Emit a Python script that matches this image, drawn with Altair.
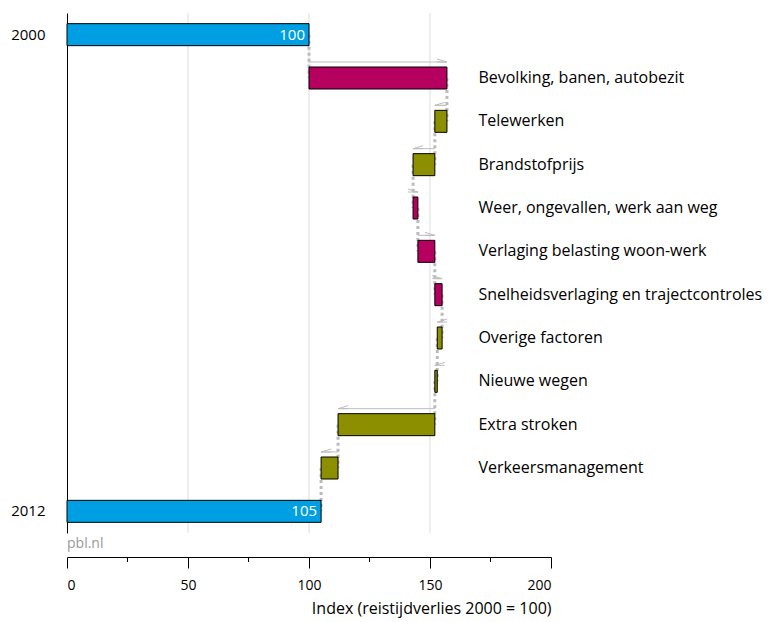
import altair as alt
import pandas as pd

categories = ["2000", "Bevolking, banen, autobezit", "Telewerken", "Brandstofprijs",
              "Weer, ongevallen, werk aan weg", "Verlaging belasting woon-werk",
              "Snelheidsverlaging en trajectcontroles", "Overige factoren", "Nieuwe wegen",
              "Extra stroken", "Verkeersmanagement", "2012"]
start_vals = [0, 100, 157, 152, 143, 145, 152, 155, 153, 152, 112, 0]
end_vals = [100, 157, 152, 143, 145, 152, 155, 153, 152, 112, 105, 105]
kinds = ["total", "up", "down", "down", "up", "up", "up", "down", "down", "down", "down", "total"]
grid_vals = [50, 100, 150]
major_ticks = [0, 50, 100, 150, 200]
minor_ticks = [25, 75, 125, 175]
label_pos = 170
source_text = "pbl.nl"
x_title = "Index (reistijdverlies 2000 = 100)"

W, H = 484, 520
OFF = 24
FONT = "Open Sans"

df = pd.DataFrame({"cat": categories, "start": start_vals, "end": end_vals, "kind": kinds})
df["lo"] = df[["start", "end"]].min(axis=1)
df["hi"] = df[["start", "end"]].max(axis=1)
df["label"] = [str(e) if k == "total" else "" for e, k in zip(end_vals, kinds)]
df["lx"] = label_pos

conn = pd.DataFrame({"from": categories[:-1], "to": categories[1:], "x": end_vals[:-1]})

x_axis = alt.Axis(values=major_ticks, offset=OFF, grid=False, tickSize=11, tickColor="black",
                  domainColor="black", labelFontSize=14, labelPadding=10, labelColor="black",
                  titleFontSize=16, titleFontWeight="normal", titleAnchor="end", titleColor="black",
                  titlePadding=8, labelFont=FONT, titleFont=FONT)
y_axis = alt.Axis(ticks=False, domainColor="black", labelFontSize=15, labelPadding=22,
                  labelColor="black", labelFont=FONT, grid=False,
                  labelExpr="datum.value == '2000' || datum.value == '2012' ? datum.value : ''")
xs = alt.Scale(domain=[0, 200], nice=False)
ys = alt.Scale(domain=categories)


def X(f):
    return alt.X(f, type="quantitative", scale=xs, axis=x_axis, title=x_title)


def Y(f="cat"):
    return alt.Y(f, type="nominal", scale=ys, sort=None, axis=y_axis, title=None)


color = alt.Color("kind:N", scale=alt.Scale(domain=["total", "up", "down"],
                                             range=["#009FE3", "#B5005F", "#8C9000"]), legend=None)

base = alt.Chart(df)

grid = alt.Chart(pd.DataFrame({"v": grid_vals})).mark_rule(color="#DDDDDD", strokeWidth=1).encode(x=X("v"))

connectors = alt.Chart(conn).mark_rule(color="#BBBBBB", strokeWidth=3, strokeDash=[3, 3]).encode(
    x=X("x"), y=Y("from"), y2=alt.Y2("to"))

arrows = base.transform_filter("datum.kind != 'total'").mark_rule(
    color="#BDBDBD", strokeWidth=1, yOffset=-16).encode(x=X("start"), x2="end", y=Y())

head_r = base.transform_filter("datum.kind == 'up'").mark_point(
    shape="M-2,-0.6L0,0L-2,0.0", filled=False, color="#BDBDBD", size=100, strokeWidth=1,
    yOffset=-16, opacity=1).encode(x=X("end"), y=Y())
head_l = base.transform_filter("datum.kind == 'down'").mark_point(
    shape="M2,-0.6L0,0L2,0.0", filled=False, color="#BDBDBD", size=100, strokeWidth=1,
    yOffset=-16, opacity=1).encode(x=X("end"), y=Y())

bars = base.mark_bar(size=22, stroke="black", strokeWidth=1).encode(
    x=X("lo"), x2="hi", y=Y(), color=color)

vals = base.transform_filter("datum.kind == 'total'").mark_text(
    align="right", dx=-4, color="white", fontSize=15, font=FONT).encode(x=X("end"), y=Y(), text="label")

cat_labels = base.transform_filter("datum.kind != 'total'").mark_text(
    align="left", fontSize=16, font=FONT, color="black").encode(x=X("lx"), y=Y(), text="cat")

minor = alt.Chart(pd.DataFrame({"v": minor_ticks})).mark_rule(color="black").encode(
    x=X("v"), y=alt.value(H + OFF), y2=alt.value(H + OFF + 5))

src = alt.Chart(pd.DataFrame({"t": [source_text]})).mark_text(
    align="left", baseline="middle", color="#999999", fontSize=14, font=FONT).encode(
    x=alt.value(0), y=alt.value(H + 11), text="t")

chart = alt.layer(grid, connectors, arrows, head_r, head_l, bars, vals, cat_labels, minor, src).properties(
    width=W, height=H, padding={"left": 2, "top": 4, "right": 0, "bottom": 2}
).configure_view(stroke=None)

chart.save("out.html", embed_options={"renderer": "svg", "actions": False})
